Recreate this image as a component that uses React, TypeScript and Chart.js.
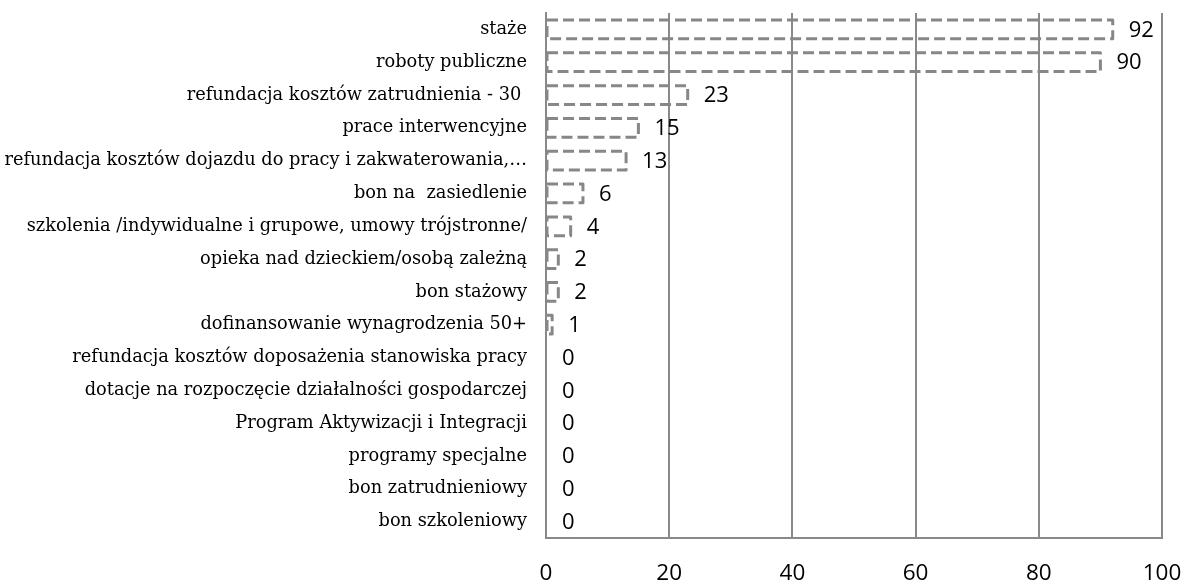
import React, { useEffect, useRef } from "react";
import { Chart, registerables } from "chart.js";

Chart.register(...registerables);

const categories = [
  "staże",
  "roboty publiczne",
  "refundacja kosztów zatrudnienia - 30 ",
  "prace interwencyjne",
  "refundacja kosztów dojazdu do pracy i zakwaterowania,…",
  "bon na  zasiedlenie",
  "szkolenia /indywidualne i grupowe, umowy trójstronne/",
  "opieka nad dzieckiem/osobą zależną",
  "bon stażowy",
  "dofinansowanie wynagrodzenia 50+",
  "refundacja kosztów doposażenia stanowiska pracy",
  "dotacje na rozpoczęcie działalności gospodarczej",
  "Program Aktywizacji i Integracji",
  "programy specjalne",
  "bon zatrudnieniowy",
  "bon szkoleniowy",
];

const values = [92, 90, 23, 15, 13, 6, 4, 2, 2, 1, 0, 0, 0, 0, 0, 0];

const xMin = 0;
const xMax = 100;
const xStep = 20;

const GRID = "#898989";
const BAR_LINE = "#878787";

export default function App() {
  const ref = useRef<HTMLCanvasElement>(null);

  useEffect(() => {
    if (!ref.current) return;

    const dashedBars = {
      id: "dashedBars",
      afterDatasetsDraw(chart: any) {
        const ctx = chart.ctx;
        const meta = chart.getDatasetMeta(0);
        ctx.save();
        meta.data.forEach((el: any, i: number) => {
          const v = values[i];
          const p = el.getProps(["x", "y", "base", "height"], true);
          if (v > 0) {
            ctx.setLineDash([11, 5]);
            ctx.lineWidth = 3;
            ctx.lineJoin = "round";
            ctx.strokeStyle = BAR_LINE;
            ctx.strokeRect(p.base, p.y - p.height / 2, p.x - p.base, p.height);
          }
          ctx.setLineDash([]);
          ctx.fillStyle = "#000";
          ctx.font = "22px 'Open Sans'";
          ctx.textAlign = "left";
          ctx.textBaseline = "middle";
          ctx.fillText(String(v), p.x + 16, p.y + 1);
        });
        ctx.restore();
      },
    };

    const chart = new Chart(ref.current, {
      type: "bar",
      data: {
        labels: categories,
        datasets: [
          {
            data: values,
            backgroundColor: "rgba(255,255,255,0)",
            borderWidth: 0,
            categoryPercentage: 0.6,
            barPercentage: 0.95,
          },
        ],
      },
      options: {
        indexAxis: "y",
        responsive: true,
        maintainAspectRatio: false,
        animation: false,
        layout: { padding: { top: 13, right: 22, left: 0, bottom: 0 } },
        plugins: {
          legend: { display: false },
          tooltip: { enabled: false },
        },
        scales: {
          x: {
            min: xMin,
            max: xMax,
            ticks: {
              stepSize: xStep,
              font: { family: "'Open Sans'", size: 22.5 },
              color: "#000",
              padding: 22,
            },
            grid: { color: GRID, lineWidth: 2, drawTicks: false },
            border: { color: GRID, width: 2 },
            afterFit(s: any) {
              s.height = 47;
              s.paddingLeft = 0;
              s.paddingRight = 0;
            },
          },
          y: {
            ticks: {
              font: { family: "'DejaVu Serif'", size: 17.8 },
              color: "#000",
              padding: 19,
              autoSkip: false,
            },
            grid: { display: false, drawTicks: false },
            border: { color: GRID, width: 2 },
            afterFit(s: any) {
              s.width = 546;
              s.paddingTop = 0;
              s.paddingBottom = 0;
            },
          },
        },
      },
      plugins: [dashedBars],
    });

    return () => chart.destroy();
  }, []);

  return (
    <div
      style={{
        position: "absolute",
        left: 0,
        top: 0,
        width: 1184,
        height: 585,
        background: "#fff",
      }}
    >
      <canvas ref={ref} />
    </div>
  );
}
